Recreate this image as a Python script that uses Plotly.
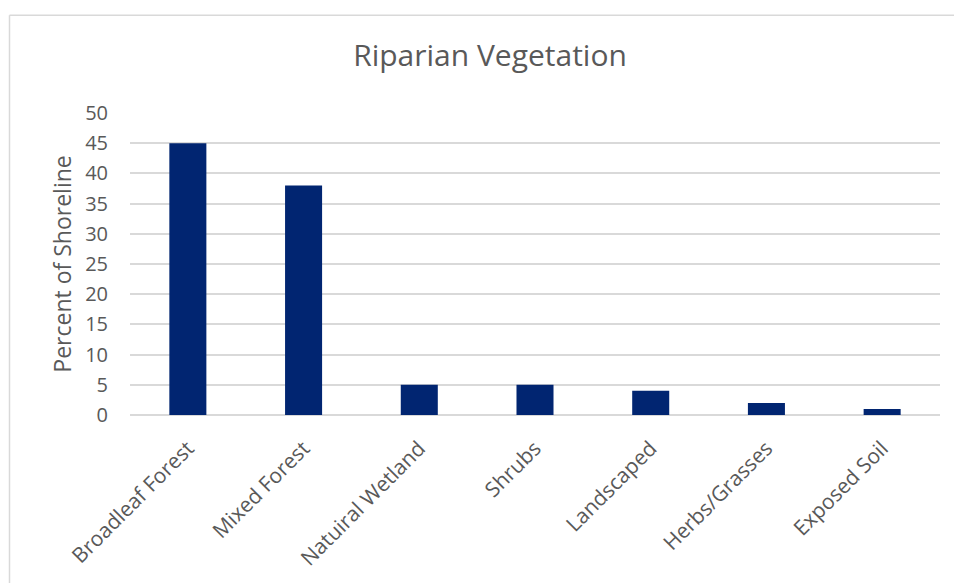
import plotly.graph_objects as go

categories = ["Broadleaf Forest", "Mixed Forest", "Natuiral Wetland", "Shrubs",
              "Landscaped", "Herbs/Grasses", "Exposed Soil"]
values = [45, 38, 5, 5, 4, 2, 1]
y_ticks = [0, 5, 10, 15, 20, 25, 30, 35, 40, 45, 50]

W, H = 954, 583
L, R = 130, W - 940
T, B = 112.5, H - 418
pw = W - L - R
ph = H - T - B

def px_x(p):
    return (p - L) / pw

def px_y(p):
    return (H - B - p) / ph

fig = go.Figure(go.Bar(x=categories, y=values, marker_color="#012571",
                       marker_line_width=0))

border = dict(color="#D9D9D9", width=1.5)
fig.update_layout(
    width=W, height=H,
    margin=dict(l=L, r=R, t=T, b=B),
    paper_bgcolor="white", plot_bgcolor="white",
    bargap=0.68,
    showlegend=False,
    font=dict(family="Open Sans", color="#595959"),
    title=dict(text="Riparian Vegetation", font=dict(size=30, color="#595959"),
               xref="container", yref="container",
               x=490 / W, y=1 - 55 / H, xanchor="center", yanchor="middle"),
    xaxis=dict(tickangle=-45, tickfont=dict(size=21, color="#595959"),
               showgrid=False, ticks="", ticklabelstandoff=16,
               showline=False),
    yaxis=dict(range=[0, 50], tickvals=y_ticks, tickfont=dict(size=20, color="#595959"),
               showgrid=True, gridcolor="#D9D9D9", gridwidth=1.5,
               zeroline=True, zerolinecolor="#D9D9D9", zerolinewidth=1.5,
               ticks="", ticklabelstandoff=21,
               title=dict(text="Percent of Shoreline", font=dict(size=23, color="#595959"),
                          standoff=7)),
    shapes=[
        dict(type="line", xref="paper", yref="paper",
             x0=px_x(9.5), x1=px_x(W + 5), y0=px_y(13.5), y1=px_y(13.5),
             line=border, layer="below"),
        dict(type="line", xref="paper", yref="paper",
             x0=px_x(9.5), x1=px_x(9.5), y0=px_y(13.5), y1=px_y(H + 5),
             line=border, layer="below"),
    ],
)

fig.write_html(
    "out.html",
    config={"displayModeBar": False},
    post_script="document.body.style.margin='0';document.body.style.overflow='hidden';",
)
